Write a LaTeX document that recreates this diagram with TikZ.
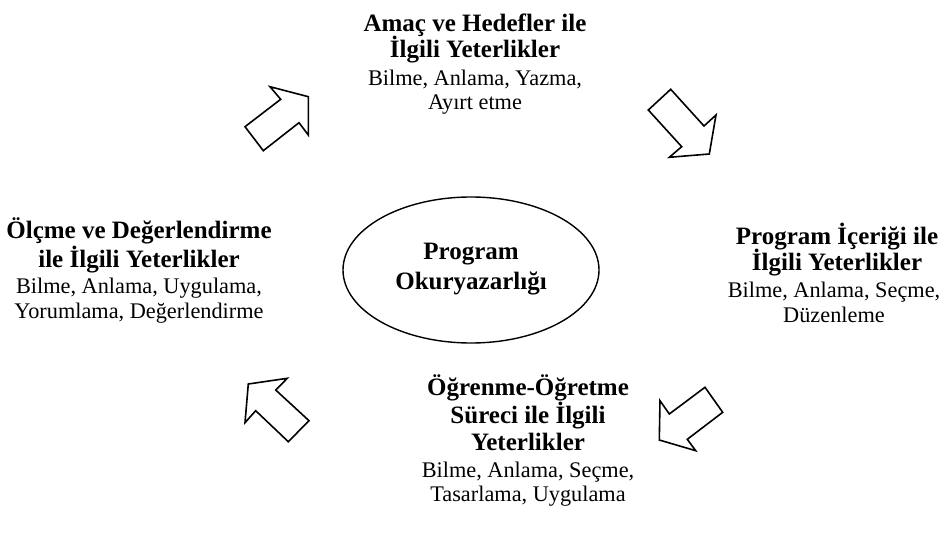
\documentclass[tikz,border=0pt]{standalone}
\usepackage{fontspec}
\setmainfont{Liberation Serif}
\usetikzlibrary{shapes.geometric}
\begin{document}
\begin{tikzpicture}[x=1pt,y=-1pt,
  head/.style={anchor=base,inner sep=0pt,font=\fontsize{25}{29}\selectfont\bfseries},
  body/.style={anchor=base,inner sep=0pt,font=\fontsize{22.3}{26}\selectfont},
  bigarrow/.style={draw=black,line width=1.6pt,line join=miter,fill=white}]
\useasboundingbox (0,0) rectangle (948,556);
% centre ellipse
\node[draw,ellipse,line width=1.4pt,minimum width=256pt,minimum height=146pt,inner sep=0pt] (core) at (471,270) {};
\node[head] (c1) at (471,260) {Program};
\node[head] (c2) at (471,289) {Okuryazarlığı};
% top block
\node[head] (t1) at (475,32) {Amaç ve Hedefler ile};
\node[head] (t2) at (475,58) {İlgili Yeterlikler};
\node[body] (t3) at (475,86) {Bilme, Anlama, Yazma,};
\node[body] (t4) at (475,110) {Ayırt etme};
% right block
\node[head] (r1) at (837,245) {Program İçeriği ile};
\node[head] (r2) at (837,271) {İlgili Yeterlikler};
\node[body] (r3) at (834,298) {Bilme, Anlama, Seçme,};
\node[body] (r4) at (834,322) {Düzenleme};
% bottom block
\node[head] (b1) at (528,395) {Öğrenme-Öğretme};
\node[head] (b2) at (528,423) {Süreci ile İlgili};
\node[head] (b3) at (528,450) {Yeterlikler};
\node[body] (b4) at (528,477) {Bilme, Anlama, Seçme,};
\node[body] (b5) at (528,501) {Tasarlama, Uygulama};
% left block
\node[head] (l1) at (139,239) {Ölçme ve Değerlendirme};
\node[head] (l2) at (139,267) {ile İlgili Yeterlikler};
\node[body] (l3) at (139,294) {Bilme, Anlama, Uygulama,};
\node[body] (l4) at (139,318) {Yorumlama, Değerlendirme};
% block arrows
\draw[bigarrow] (270,86.7) -- (308.3,96.7) -- (308.3,135) -- (299,122.7) -- (263.3,150.7) -- (245,126.7) -- (280.7,99.3) -- cycle;
\draw[bigarrow] (670.7,89.3) -- (704,126) -- (716,115) -- (709.3,154) -- (669.3,157.3) -- (681.7,146.7) -- (648.3,110) -- cycle;
\draw[bigarrow] (705,387.3) -- (722.7,412.3) -- (687.3,439.3) -- (695.7,450.7) -- (659.3,440) -- (660,400.7) -- (669.3,414) -- cycle;
\draw[bigarrow] (248.3,384) -- (287.3,378.3) -- (275.7,390) -- (309,420.7) -- (288.3,441.7) -- (255.7,410.7) -- (245,422.7) -- cycle;
\end{tikzpicture}
\end{document}
